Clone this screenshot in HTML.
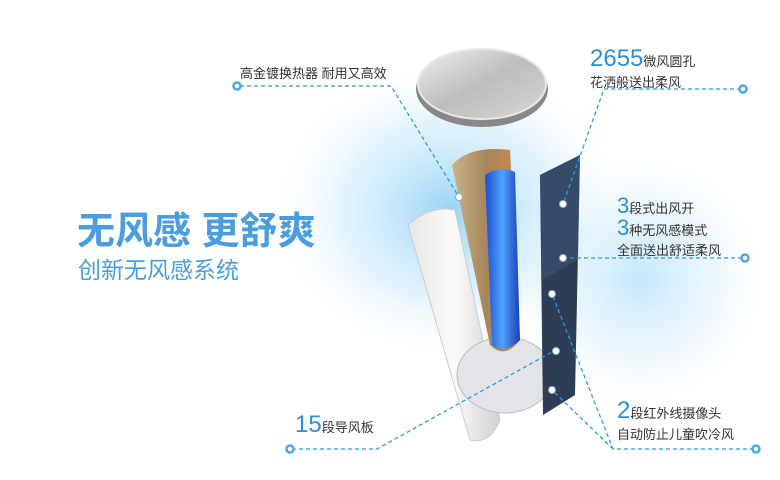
<!DOCTYPE html>
<html><head><meta charset="utf-8"><style>
body{margin:0;background:#fff}
svg{display:block}
text{font-family:"Liberation Sans","Noto Sans CJK SC",sans-serif}
</style></head><body>
<svg width="780" height="480" viewBox="0 0 780 480" xmlns="http://www.w3.org/2000/svg">
<defs>
<radialGradient id="glow" cx="0.5" cy="0.5" r="0.5">
<stop offset="0" stop-color="#8fd0f5" stop-opacity="0.9"/>
<stop offset="0.6" stop-color="#c7e8fa" stop-opacity="0.5"/>
<stop offset="1" stop-color="#fff" stop-opacity="0"/>
</radialGradient>
<linearGradient id="disc" x1="0" y1="0" x2="1" y2="1">
<stop offset="0" stop-color="#f0f0f0"/><stop offset="0.5" stop-color="#bdbdbd"/><stop offset="1" stop-color="#d8d8d8"/>
</linearGradient>
<linearGradient id="cop" x1="0" x2="1">
<stop offset="0" stop-color="#c9b48a"/><stop offset="0.5" stop-color="#a7855a"/><stop offset="1" stop-color="#c98b4a"/>
</linearGradient>
<linearGradient id="blu" x1="0" x2="1">
<stop offset="0" stop-color="#1d4fd0"/><stop offset="0.5" stop-color="#4da3ff"/><stop offset="1" stop-color="#1a3fb8"/>
</linearGradient>
<linearGradient id="pan" x1="0" x2="1">
<stop offset="0" stop-color="#e6e6e6"/><stop offset="0.5" stop-color="#fafafa"/><stop offset="1" stop-color="#d0d0d0"/>
</linearGradient>
</defs>
<ellipse cx="450" cy="210" rx="180" ry="150" fill="url(#glow)"/>
<ellipse cx="640" cy="280" rx="130" ry="130" fill="url(#glow)" opacity="0.6"/>
<!-- disc -->
<ellipse cx="482" cy="89" rx="66" ry="38" fill="#888"/>
<ellipse cx="482" cy="84" rx="64" ry="35" fill="url(#disc)" stroke="#e8e8e8" stroke-width="2"/>
<!-- white panel -->
<path d="M408 225 Q430 205 455 210 L500 420 Q490 445 470 440 Z" fill="url(#pan)" stroke="#ccc"/>
<!-- base -->
<ellipse cx="505" cy="375" rx="48" ry="38" fill="#e2e4e8" stroke="#bbb"/>
<!-- heat exchanger -->
<path d="M452 165 Q470 145 510 150 L520 340 Q505 360 490 345 Z" fill="url(#cop)"/>
<path d="M485 175 Q500 165 515 172 L520 340 Q505 355 492 345 Z" fill="url(#blu)"/>
<!-- mesh panel -->
<path d="M540 175 L580 155 L575 395 L543 415 Z" fill="#2c3d55"/>
<path d="M540 175 L580 155 L578 260 L542 280 Z" fill="#3d5573" opacity="0.6"/>
<!-- lines -->
<g stroke="#2a9be0" stroke-width="1.3" stroke-dasharray="4,3" fill="none">
<polyline points="240,86 391,86 459,197"/>
<polyline points="741,89 604,89 563,204"/>
<polyline points="563,258 743,258"/>
<polyline points="292,449 377,449 552,352"/>
<polyline points="754,449 613,449 552,294"/>
<polyline points="613,449 552,390"/>
</g>
<g fill="#fff" stroke="#4aa6e6" stroke-width="2.5">
<circle cx="237" cy="86" r="3.5"/><circle cx="743" cy="89" r="3.5"/><circle cx="745" cy="258" r="3.5"/>
<circle cx="290" cy="449" r="3.5"/><circle cx="756" cy="449" r="3.5"/>
</g>
<g fill="#fff" stroke="#9ab" stroke-width="1">
<circle cx="459" cy="197" r="3.5"/><circle cx="563" cy="204" r="3.5"/><circle cx="563" cy="258" r="3.5"/>
<circle cx="552" cy="294" r="3.5"/><circle cx="556" cy="351" r="3.5"/><circle cx="552" cy="390" r="3.5"/>
</g>
<!-- text -->
<text x="77" y="244" font-size="38" font-weight="bold" fill="#4a9de0">无风感 更舒爽</text>
<text x="78" y="278" font-size="23" fill="#4a9de0">创新无风感系统</text>
<text x="240" y="78" font-size="13" fill="#333">高金镀换热器 耐用又高效</text>
<text x="590" y="66" fill="#333"><tspan font-size="24" fill="#2a8fe0">2655</tspan><tspan font-size="13">微风圆孔</tspan></text>
<text x="590" y="87" font-size="13" fill="#333">花洒般送出柔风</text>
<text x="617" y="213" fill="#333"><tspan font-size="22" fill="#2a8fe0">3</tspan><tspan font-size="13">段式出风开</tspan></text>
<text x="617" y="235" fill="#333"><tspan font-size="22" fill="#2a8fe0">3</tspan><tspan font-size="13">种无风感模式</tspan></text>
<text x="617" y="255" font-size="13" fill="#333">全面送出舒适柔风</text>
<text x="295" y="432" fill="#333"><tspan font-size="24" fill="#2a8fe0">15</tspan><tspan font-size="13">段导风板</tspan></text>
<text x="617" y="418" fill="#333"><tspan font-size="24" fill="#2a8fe0">2</tspan><tspan font-size="13">段红外线摄像头</tspan></text>
<text x="617" y="439" font-size="13" fill="#333">自动防止儿童吹冷风</text>
</svg>
</body></html>
